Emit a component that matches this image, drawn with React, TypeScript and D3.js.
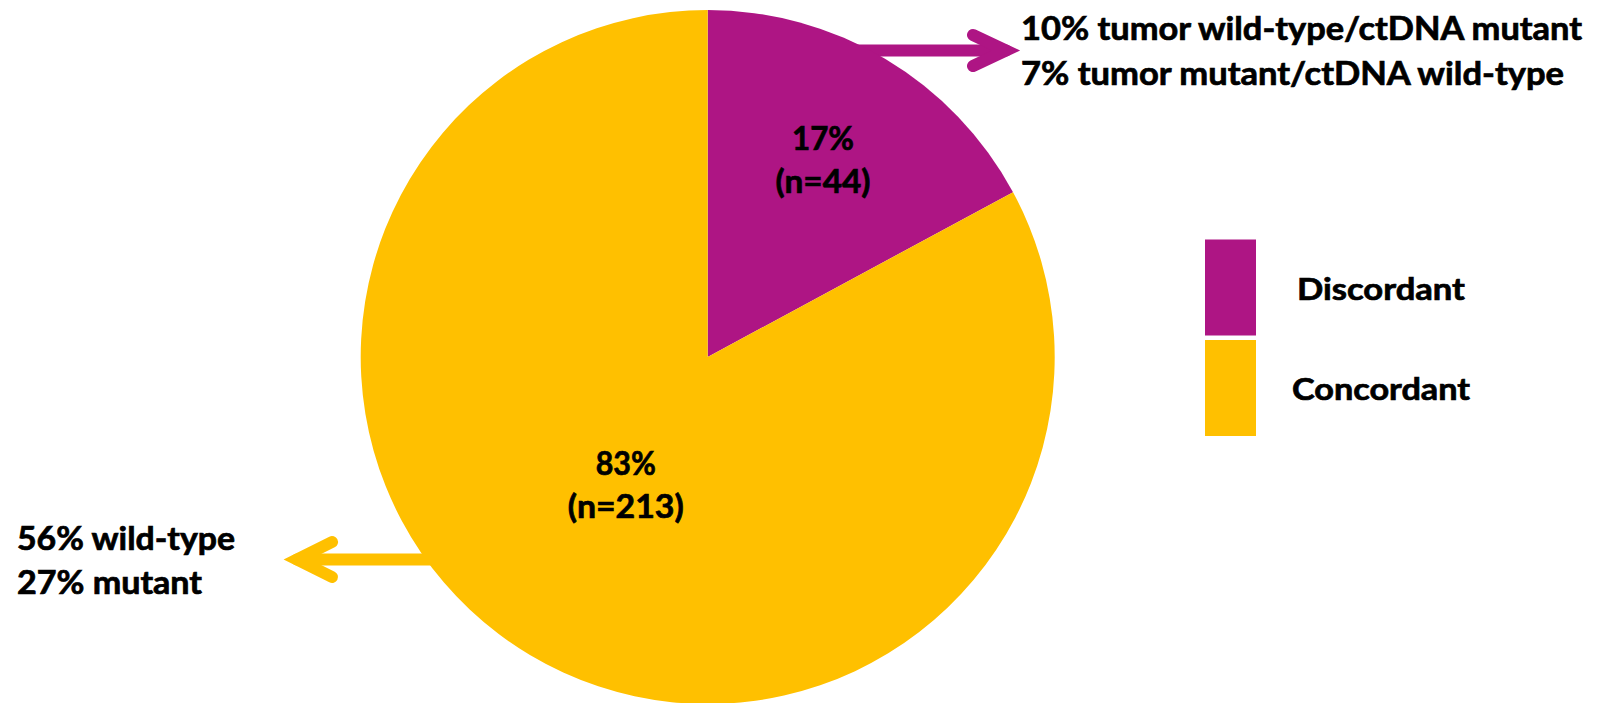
import React from "react";
import * as d3 from "d3";

const categories = ["Discordant", "Concordant"];
const counts = [44, 213];
const percentLabels = ["17%", "83%"];
const countLabels = ["(n=44)", "(n=213)"];
const colors = ["#AE1584", "#FFC000"];
const discordantNotes = ["10% tumor wild-type/ctDNA mutant", "7% tumor mutant/ctDNA wild-type"];
const concordantNotes = ["56% wild-type", "27% mutant"];

const W = 1601;
const H = 703;
const FONT = "Lato, 'Open Sans', sans-serif";

export default function App() {
  const cx = 707.7;
  const cy = 357;
  const r = 347;
  const data = categories.map((c, i) => ({ c, v: counts[i], i }));
  const pie = d3.pie<any>().sort(null).value((d) => d.v).startAngle(0).endAngle(2 * Math.PI);
  const arcs = pie(data);
  const arcGen = d3.arc<any>().innerRadius(0).outerRadius(r);
  const labelRadii = [225, 160];
  const lineOffsets = [[-14, 29], [-19, 24]];
  const sliceLabelW = [[62, 95], [60, 116]];

  const labelPos = arcs.map((a, i) => {
    const lr = labelRadii[i];
    return d3.arc<any>().innerRadius(lr).outerRadius(lr).centroid(a);
  });

  const noteW1 = [561, 543];
  const noteW2 = [218, 185];

  return (
    <svg width={W} height={H} style={{ position: "absolute", left: 0, top: 0, display: "block" }} fontFamily={FONT} fontWeight="bold">
      <rect width={W} height={H} fill="#ffffff" />
      <g fill="none" strokeLinecap="round" strokeLinejoin="miter">
        <line x1={840} y1={50.5} x2={1006} y2={50.5} stroke={colors[0]} strokeWidth={12} />
        <polyline points="973,35 1006,50.5 973,66" stroke={colors[0]} strokeWidth={12} />
        <line x1={450} y1={559.5} x2={297} y2={559.5} stroke={colors[1]} strokeWidth={12} />
        <polyline points="332,542 297,559.5 332,577" stroke={colors[1]} strokeWidth={12} />
      </g>
      <g transform={`translate(${cx},${cy})`}>
        {arcs.map((a, i) => (
          <path key={i} d={arcGen(a) as string} fill={colors[i]} />
        ))}
      </g>
      <g fill="#000" stroke="#000" strokeWidth={0.7}>
        <g transform={`translate(${cx},${cy})`}>
          {arcs.map((a, i) => (
            <g key={"l" + i} transform={`translate(${labelPos[i][0]},${labelPos[i][1]})`} fontSize={32} textAnchor="middle">
              <text x={0} y={lineOffsets[i][0]} textLength={sliceLabelW[i][0]} lengthAdjust="spacingAndGlyphs">{percentLabels[i]}</text>
              <text x={0} y={lineOffsets[i][1]} textLength={sliceLabelW[i][1]} lengthAdjust="spacingAndGlyphs">{countLabels[i]}</text>
            </g>
          ))}
        </g>
        <g fontSize={32}>
          {discordantNotes.map((t, i) => (
            <text key={t} x={1021} y={40 + i * 45} textLength={noteW1[i]} lengthAdjust="spacingAndGlyphs">{t}</text>
          ))}
          {concordantNotes.map((t, i) => (
            <text key={t} x={17} y={550 + i * 44} textLength={noteW2[i]} lengthAdjust="spacingAndGlyphs">{t}</text>
          ))}
        </g>
        {categories.map((c, i) => (
          <text key={c} x={1381} y={300 + i * 100} fontSize={31} textAnchor="middle" textLength={i === 0 ? 168 : 178} lengthAdjust="spacingAndGlyphs">{c}</text>
        ))}
      </g>
      <g>
        {categories.map((c, i) => (
          <rect key={c} x={1205} y={239.5 + i * 100.5} width={51} height={96} fill={colors[i]} />
        ))}
      </g>
    </svg>
  );
}
